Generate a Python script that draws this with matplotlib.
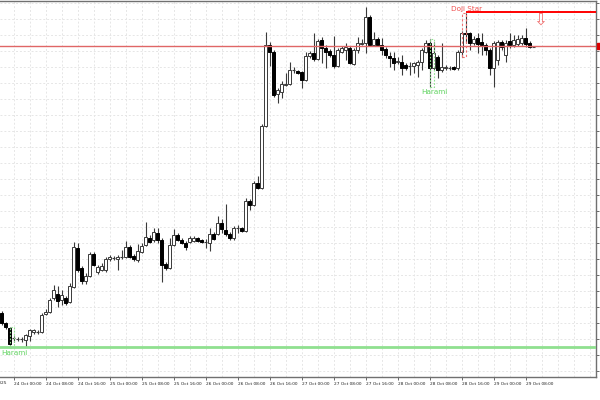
import numpy as np
import matplotlib.pyplot as plt
from matplotlib.patches import Rectangle
import matplotlib.transforms as mtransforms

# H1 candles, prices quoted as points above base
base = 1.1000
pt = 0.0001

opens = [67, 57, 52, 42, 41, 41, 40, 44, 48, 48,
         48, 66, 68, 82, 86, 80, 82, 78, 93, 132,
         112, 99, 104, 126, 108, 110, 110, 121, 122, 121,
         123, 123, 133, 124, 120, 128, 135, 142, 140, 147,
         140, 116, 112, 135, 145, 140, 137, 138, 139, 142,
         140, 138, 137, 146, 146, 157, 150, 146, 142, 152,
         152, 149, 179, 175, 197, 192, 254, 335, 328, 286,
         288, 295, 296, 310, 309, 308, 300, 324, 327, 321,
         340, 332, 329, 325, 314, 328, 330, 332, 316, 330,
         336, 337, 363, 335, 341, 335, 331, 324, 322, 318,
         318, 315, 314, 314, 315, 318, 328, 337, 312, 323,
         310, 312, 312, 313, 312, 328, 347, 347, 337, 342,
         338, 335, 330, 312, 320, 338, 325, 339, 335, 336,
         337, 342, 337, 333]
highs = [69, 58, 53, 44, 43, 43, 46, 51, 51, 50,
         67, 71, 82, 95, 94, 90, 84, 97, 138, 137,
         114, 107, 128, 128, 115, 117, 123, 125, 124, 125,
         130, 139, 135, 126, 136, 137, 158, 145, 152, 152,
         142, 118, 142, 151, 147, 142, 139, 144, 144, 143,
         141, 141, 152, 148, 164, 161, 176, 148, 154, 155,
         153, 182, 181, 199, 204, 256, 348, 338, 330, 292,
         299, 307, 318, 313, 310, 309, 328, 329, 347, 341,
         343, 335, 331, 344, 332, 334, 337, 334, 332, 343,
         341, 373, 365, 348, 343, 342, 333, 328, 328, 323,
         325, 317, 318, 318, 320, 332, 340, 341, 338, 325,
         337, 315, 314, 314, 330, 349, 367, 348, 344, 347,
         347, 337, 332, 339, 340, 340, 340, 347, 345, 345,
         345, 352, 339, 334]
lows = [55, 51, 32, 38, 39, 38, 33, 39, 46, 46,
        47, 65, 67, 80, 73, 75, 75, 77, 92, 108,
        96, 96, 103, 114, 106, 109, 108, 119, 120, 110,
        121, 122, 122, 119, 118, 127, 134, 137, 138, 137,
        98, 110, 111, 134, 139, 136, 130, 137, 138, 138,
        137, 132, 129, 140, 145, 147, 144, 140, 140, 147,
        148, 148, 170, 174, 191, 191, 253, 314, 283, 277,
        282, 294, 295, 307, 306, 292, 299, 322, 319, 320,
        317, 312, 323, 312, 313, 327, 320, 316, 315, 327,
        335, 327, 334, 334, 334, 325, 322, 313, 310, 316,
        305, 310, 305, 307, 303, 310, 327, 293, 310, 302,
        308, 310, 310, 310, 310, 323, 337, 330, 335, 327,
        325, 325, 305, 293, 315, 330, 318, 332, 333, 334,
        335, 333, 332, 333]
closes = [57, 53, 36, 42, 41, 41, 45, 50, 50, 48,
          65, 68, 80, 90, 79, 85, 77, 94, 133, 110,
          99, 104, 126, 115, 113, 114, 121, 123, 122, 123,
          123, 133, 123, 121, 129, 134, 143, 138, 148, 140,
          115, 112, 135, 145, 140, 137, 133, 142, 142, 139,
          138, 138, 146, 141, 157, 151, 146, 142, 152, 152,
          149, 179, 175, 197, 192, 254, 335, 328, 285, 290,
          296, 296, 310, 310, 307, 300, 324, 327, 321, 339,
          332, 328, 325, 314, 330, 332, 333, 317, 330, 337,
          337, 363, 335, 341, 335, 330, 325, 322, 317, 319,
          312, 312, 314, 317, 318, 330, 337, 312, 327, 310,
          313, 313, 312, 311, 328, 347, 346, 337, 341, 336,
          335, 330, 312, 337, 338, 333, 337, 335, 340, 341,
          342, 336, 333, 333]

tick_idx = [3, 11, 19, 27, 35, 43, 51, 59, 67, 75, 83, 91, 99, 107, 115, 123, 131]
tick_labels = ['24 Oct 00:00', '24 Oct 08:00', '24 Oct 16:00',
               '25 Oct 00:00', '25 Oct 08:00', '25 Oct 16:00',
               '26 Oct 00:00', '26 Oct 08:00', '26 Oct 16:00',
               '27 Oct 00:00', '27 Oct 08:00', '27 Oct 16:00',
               '28 Oct 00:00', '28 Oct 08:00', '28 Oct 16:00',
               '29 Oct 00:00', '29 Oct 08:00']
first_label = '23 Oct 2025'

resistance = 334
upper_level = 368
upper_from = 116
support = 33

# (name, first bar, second bar)
harami = [('Harami', 2, 3), ('Harami', 107, 108)]
doji_star = ('Doji Star', 115, 116)

o = base + np.array(opens) * pt
h = base + np.array(highs) * pt
l = base + np.array(lows) * pt
c = base + np.array(closes) * pt
x = np.arange(len(o))

small_font = ['Liberation Sans Narrow', 'DejaVu Sans']

fig = plt.figure(figsize=(6, 4), dpi=100)
ax = fig.add_axes([0, 23 / 400, 596 / 600, 376 / 400])
ax.set_xlim(-0.375, 148.625)
ax.set_ylim(base + 3 * pt, base + 379 * pt)

# grid
for gx in range(3, 149, 4):
    ax.axvline(gx, color='#e6e6e6', lw=0.7, ls=(0, (2, 2)), zorder=0)
yt = base + np.arange(377, 0, -16) * pt
for gy in yt:
    ax.axhline(gy, color='#e6e6e6', lw=0.7, ls=(0, (2, 2)), zorder=0)

# candles
edge = '#3a3a3a'
ax.vlines(x, l, h, color=edge, lw=0.8, zorder=2)
up = c > o
down = c < o
flat = c == o
ax.bar(x[up], (c - o)[up], bottom=o[up], width=0.55, color='white',
       edgecolor=edge, lw=0.7, zorder=3)
ax.bar(x[down], (o - c)[down], bottom=c[down], width=0.55, color='black',
       edgecolor='black', lw=0.7, zorder=3)
ax.hlines(o[flat], x[flat] - 0.35, x[flat] + 0.35, color=edge, lw=0.8, zorder=3)

# levels
ax.axhline(base + resistance * pt, color='#e06666', lw=1.0, zorder=4)
ax.axhline(base + support * pt, color='#8fe08f', lw=2.0, zorder=4)
ax.hlines(base + upper_level * pt, upper_from, 148.625, color='#ff0000', lw=1.4, zorder=4)

# patterns
for name, a, b in harami:
    lo = min(l[a], l[b])
    hi = max(h[a], h[b])
    ax.add_patch(Rectangle((a, lo), b - a, hi - lo, fill=False, ec='#90e090',
                           lw=0.8, ls=(0, (1.5, 1.5)), zorder=5))
    ax.text(a + 1.25, lo - 2 * pt, name, color='#5fd35f', fontsize=5.2,
            ha='center', va='top', zorder=6)

name, a, b = doji_star
lo = min(l[a], l[b])
hi = max(h[a], h[b])
ax.add_patch(Rectangle((a, lo), b - a, hi - lo, fill=False, ec='#f07070',
                       lw=0.8, ls=(0, (2, 2)), zorder=5))
ax.text(a + 1.25, hi + 1 * pt, name, color='#f05050', fontsize=5.2,
        ha='center', va='bottom', zorder=6)

ax.text(134.75, base + upper_level * pt + 1 * pt, '\u21e9', color='#f07070',
        fontsize=12, ha='center', va='top', zorder=6)

# price tag on the right edge
trans = mtransforms.blended_transform_factory(ax.transAxes, ax.transData)
ax.add_patch(Rectangle((1.001, base + (resistance - 3) * pt), 0.01, 6 * pt,
                       transform=trans, color='#dd0000', clip_on=False, zorder=6))

# axes frame
ax.spines['left'].set_visible(False)
for side in ['top', 'right', 'bottom']:
    ax.spines[side].set_color('#707070')
    ax.spines[side].set_linewidth(1.0)

ax.yaxis.tick_right()
ax.set_yticks(yt)
ax.set_yticklabels([])
ax.tick_params(axis='y', length=2.5, width=0.6, color='#505050')
ax.set_xticks(tick_idx)
ax.set_xticklabels(tick_labels, fontsize=3.1, ha='left', color='#202020',
                   family=small_font)
ax.tick_params(axis='x', length=2.5, width=0.6, color='#505050', pad=1)
offset = mtransforms.ScaledTranslation(1 / 100, 0, fig.dpi_scale_trans)
for lab in ax.get_xticklabels():
    lab.set_transform(lab.get_transform() + offset)

ax.text(1.2, -0.011, first_label,
        transform=mtransforms.blended_transform_factory(ax.transData, ax.transAxes),
        fontsize=3.1, family=small_font, ha='right', va='top', color='#202020',
        clip_on=False)

fig.savefig('out.png', dpi=100)
